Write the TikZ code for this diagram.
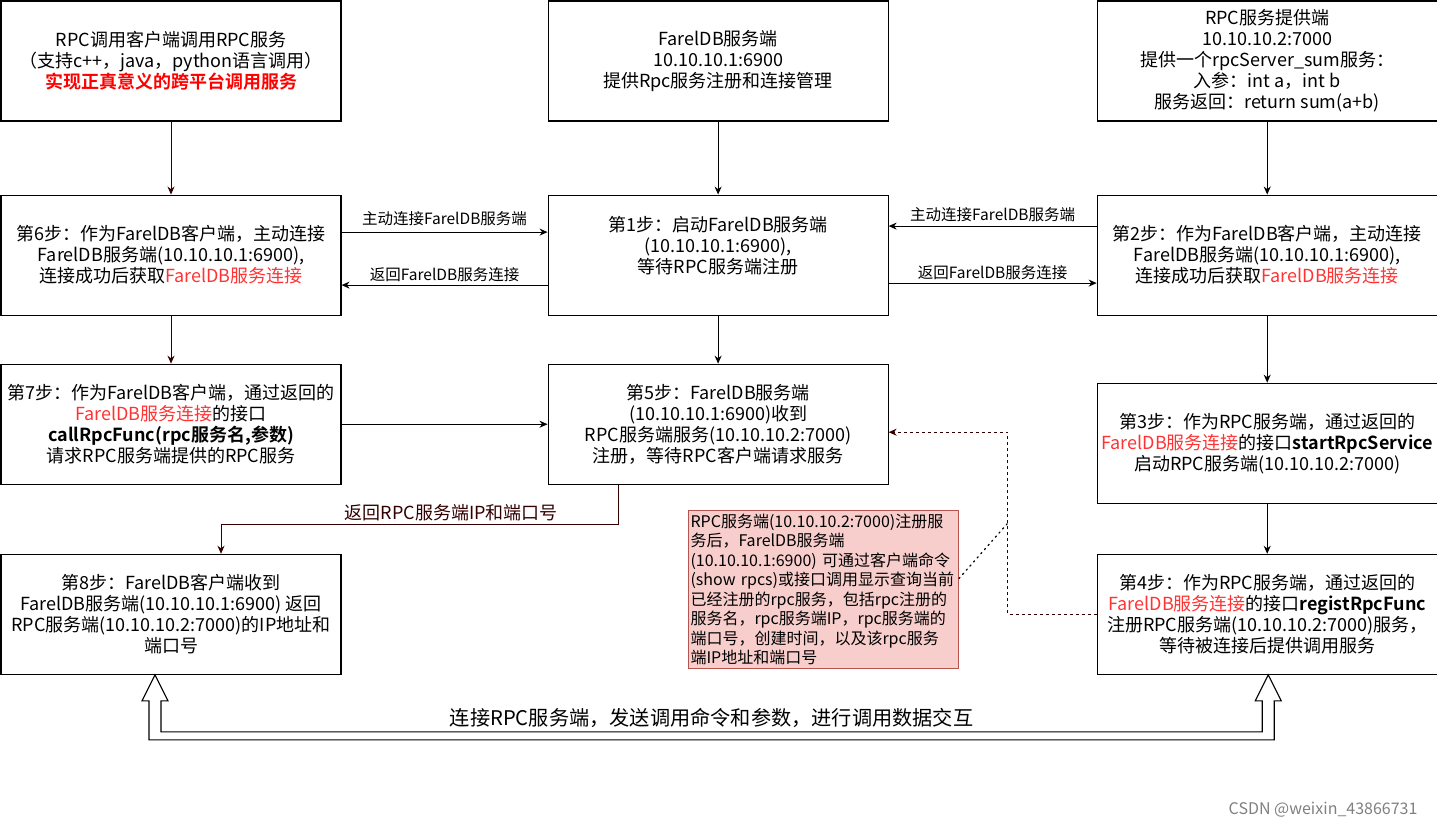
\documentclass[tikz,border=0pt]{standalone}
\usepackage{fontspec}
\setmainfont{Noto Sans CJK SC}[BoldFont={Noto Sans CJK SC Bold}]
\usepackage{xcolor}
\usetikzlibrary{arrows.meta,positioning,calc}

\definecolor{linkred}{HTML}{FF3333}
\definecolor{darkarr}{HTML}{330000}
\definecolor{notefill}{HTML}{F8CECC}
\definecolor{noteline}{HTML}{B85450}
\newcommand{\redtext}[1]{\textcolor{linkred}{#1}}

\begin{document}
\begin{tikzpicture}[
  x=1pt,y=1pt,
  node distance=73pt and 206pt,
  box/.style={draw,line width=1.1pt,align=center,minimum width=340pt,minimum height=120pt,inner sep=0pt,font=\fontsize{18}{21}\selectfont},
  note/.style={draw=noteline,fill=notefill,line width=1pt,align=left,text width=266pt,minimum height=158pt,inner sep=2pt,font=\fontsize{16}{19.5}\selectfont},
  lbl/.style={font=\fontsize{15.5}{17}\selectfont},
  arr/.style={-{Stealth[length=8pt,width=7pt]},line width=1pt},
  arrd/.style={arr,draw=darkarr},
  hollow/.style={draw,line width=1.1pt,fill=white}
]
\useasboundingbox (0,0) rectangle (1437,-830);

% top row
\node[box] (client) at (171,-61) {RPC调用客户端调用RPC服务\\（支持c++，java，python语言调用）\\{\color{red}\bfseries 实现正真意义的跨平台调用服务}};
\node[box,right=206pt of client] (server) {FarelDB服务端\\10.10.10.1:6900\\提供Rpc服务注册和连接管理};
\node[box,right=208pt of server] (provider) {RPC服务提供端\\10.10.10.2:7000\\提供一个rpcServer\_sum服务：\\入参：int a，int b\\服务返回：return sum(a+b)};

% steps
\node[box,below=of client] (step6) {第6步：作为FarelDB客户端，主动连接\\FarelDB服务端(10.10.10.1:6900),\\连接成功后获取\redtext{FarelDB服务连接}};
\node[box,below=of server] (step1) {第1步：启动FarelDB服务端\\(10.10.10.1:6900),\\等待RPC服务端注册\\\mbox{}};
\node[box,below=of provider] (step2) {第2步：作为FarelDB客户端，主动连接\\FarelDB服务端(10.10.10.1:6900),\\连接成功后获取\redtext{FarelDB服务连接}};
\node[box,below=48pt of step6] (step7) {第7步：作为FarelDB客户端，通过返回的\\\redtext{FarelDB服务连接}的接口\\\textbf{callRpcFunc(rpc服务名,参数)}\\请求RPC服务端提供的RPC服务};
\node[box,below=48pt of step1] (step5) {第5步：FarelDB服务端\\(10.10.10.1:6900)收到\\RPC服务端服务(10.10.10.2:7000)\\注册，等待RPC客户端请求服务};
\node[box,below=67pt of step2] (step3) {第3步：作为RPC服务端，通过返回的\\\redtext{FarelDB服务连接}的接口\textbf{startRpcService}\\启动RPC服务端(10.10.10.2:7000)};
\node[box,below=69pt of step7] (step8) {第8步：FarelDB客户端收到\\FarelDB服务端(10.10.10.1:6900) 返回\\RPC服务端(10.10.10.2:7000)的IP地址和\\端口号};
\node[box,below=50pt of step3] (step4) {第4步：作为RPC服务端，通过返回的\\\redtext{FarelDB服务连接}的接口\textbf{registRpcFunc}\\注册RPC服务端(10.10.10.2:7000)服务，\\等待被连接后提供调用服务};
\node[note,anchor=north west] (memo) at (688,-510) {RPC服务端(10.10.10.2:7000)注册服\\务后，FarelDB服务端\\(10.10.10.1:6900)~可通过客户端命令\\\mbox{(show rpcs)或接口调用显示查询当前}\\已经注册的rpc服务，包括rpc注册的\\服务名，rpc服务端IP，rpc服务端的\\端口号，创建时间，以及该rpc服务\\端IP地址和端口号};

% vertical flow
\draw[arrd] (client) -- (step6);
\draw[arrd] (step6) -- (step7);
\draw[arr] (server) -- (step1);
\draw[arr] (step1) -- (step5);
\draw[arr] (provider) -- (step2);
\draw[arr] (step2) -- (step3);
\draw[arr] (step3) -- (step4);
\draw[arr] (step7) -- (step5);

% connection handshake
\draw[arr] ([yshift=23pt]step6.east) -- node[lbl,above=3pt]{主动连接FarelDB服务端} ([yshift=23pt]step6.east -| step1.west);
\draw[arr] ([yshift=-30pt]step1.west) -- node[lbl,above]{返回FarelDB服务连接} ([yshift=-30pt]step1.west -| step6.east);
\draw[arr] ([yshift=29pt]step2.west) -- node[lbl,above]{主动连接FarelDB服务端} ([yshift=29pt]step2.west -| step1.east);
\draw[arr] ([yshift=-28pt]step1.east) -- node[lbl,above]{返回FarelDB服务连接} ([yshift=-28pt]step1.east -| step2.west);

% lookup reply and registration
\draw[arrd] ([xshift=-100pt]step5.south) -- ++(0,-40) -| node[pos=0.21,above,text=darkarr,font=\fontsize{18}{21}\selectfont]{返回RPC服务端IP和端口号} ([xshift=50pt]step8.north);
\draw[arrd,dash pattern=on 3pt off 3pt] (step4.west) -- ++(-89,0) |- coordinate[pos=0.25] (tap) ([yshift=-8pt]step5.east);
\draw[dash pattern=on 1.5pt off 4pt,line width=1.2pt,line cap=round] ([yshift=11pt]memo.east) -- (tap);

% data exchange
\coordinate (la) at ([xshift=-16pt]step8.south);
\coordinate (ra) at ([xshift=1pt]step4.south);
\draw[hollow] (la) -- ++(13,-26) -- ++(-7,0) -- ($(la)+(6,-57)$) -- ($(ra)+(-6,-57)$) -- ++(0,31) -- ++(-7,0) -- (ra) -- ++(13,-26) -- ++(-7,0) -- ($(ra)+(6,-65)$) -- ($(la)+(-6,-65)$) -- ++(0,39) -- ++(-7,0) -- cycle;
\node[font=\fontsize{20.2}{24}\selectfont] (swap) at ($(la)!0.5!(ra)+(0,-43)$) {连接RPC服务端，发送调用命令和参数，进行调用数据交互};

\node[anchor=east,text=gray,font=\fontsize{16}{18}\selectfont] (mark) at (1421,-810) {CSDN @weixin\_43866731};
\end{tikzpicture}
\end{document}
